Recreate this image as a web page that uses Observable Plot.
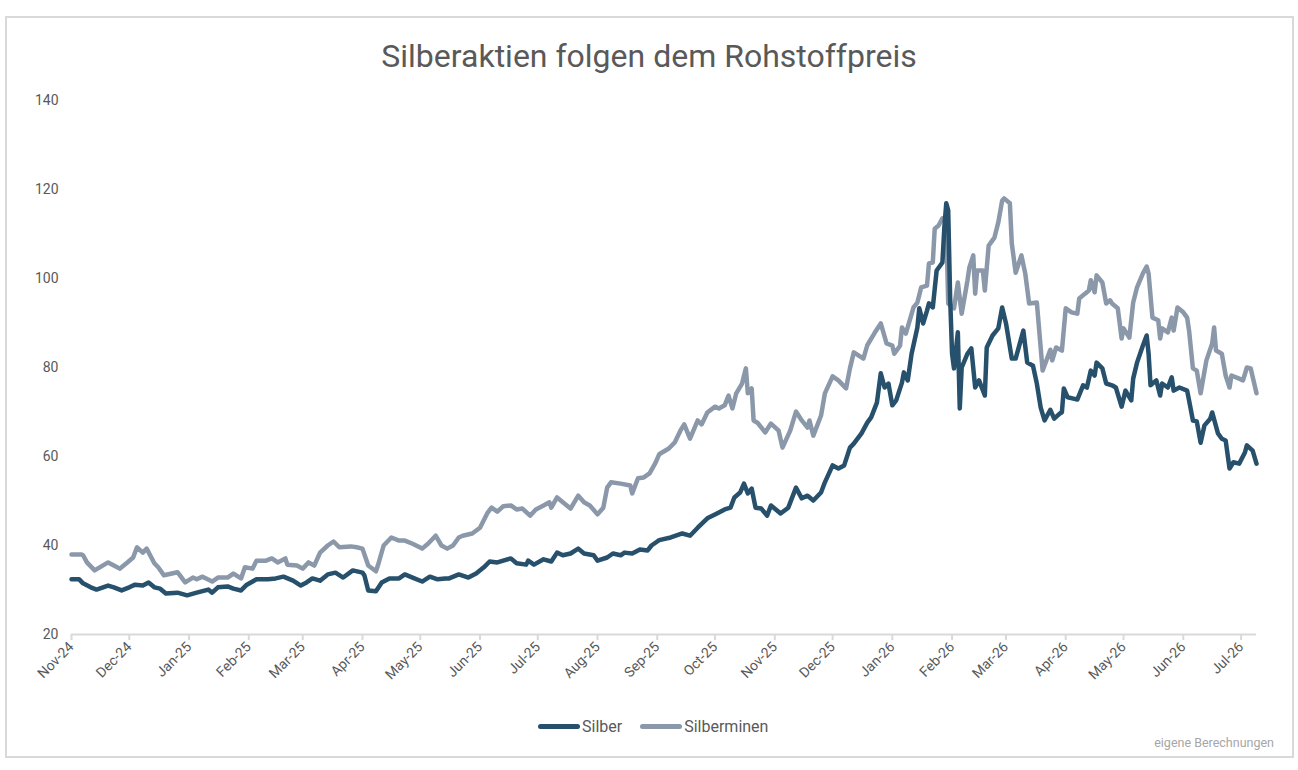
<!DOCTYPE html>
<html>
<head>
<meta charset="utf-8">
<script src="https://cdn.jsdelivr.net/npm/d3@7"></script>
<script src="https://cdn.jsdelivr.net/npm/@observablehq/plot@0.6"></script>
<style>
  body { margin: 0; background: #fff; font-family: "Roboto", sans-serif; }
  #frame { position: absolute; left: 5px; top: 16px; width: 1285px; height: 738px; border: 2px solid #d9d9d9; box-sizing: content-box; }
  #title { position: absolute; left: 0; top: 37px; width: 1298px; text-align: center; font-size: 32px; color: #595959; }
  #chart { position: absolute; left: 0; top: 80px; }
  #legend { position: absolute; left: 538px; top: 717px; display: flex; align-items: center; font-size: 16px; color: #595959; }
  #legend .item { display: flex; align-items: center; margin-right: 18px; }
  #legend .sw { width: 42px; height: 5px; border-radius: 3px; margin-right: 2px; }
  #caption { position: absolute; right: 24px; top: 735px; font-size: 12.5px; color: #a6a6a6; }
</style>
</head>
<body>
<div id="frame"></div>
<div id="title">Silberaktien folgen dem Rohstoffpreis</div>
<div id="chart"></div>
<div id="legend"></div>
<div id="caption">eigene Berechnungen</div>
<script>
// Silver price (Silber)
const silberDates = [
  "2024-11-01","2024-11-05","2024-11-07","2024-11-11","2024-11-14","2024-11-20","2024-11-23","2024-11-27",
  "2024-12-01","2024-12-04","2024-12-08","2024-12-11","2024-12-14","2024-12-17","2024-12-20","2024-12-26","2024-12-31",
  "2025-01-05","2025-01-11","2025-01-13","2025-01-16","2025-01-21","2025-01-24","2025-01-28","2025-01-31",
  "2025-02-05","2025-02-11","2025-02-15","2025-02-19","2025-02-24","2025-02-28",
  "2025-03-03","2025-03-06","2025-03-10","2025-03-14","2025-03-18","2025-03-22","2025-03-27",
  "2025-04-01","2025-04-02","2025-04-04","2025-04-08","2025-04-11","2025-04-15","2025-04-20","2025-04-23","2025-04-27",
  "2025-05-02","2025-05-06","2025-05-10","2025-05-14","2025-05-16","2025-05-21","2025-05-26","2025-05-30",
  "2025-06-03","2025-06-06","2025-06-10","2025-06-17","2025-06-20","2025-06-25","2025-06-26","2025-06-29",
  "2025-07-04","2025-07-08","2025-07-11","2025-07-14","2025-07-18","2025-07-22","2025-07-25","2025-07-30",
  "2025-08-01","2025-08-06","2025-08-09","2025-08-13","2025-08-15","2025-08-19","2025-08-23","2025-08-27","2025-08-29",
  "2025-09-01","2025-09-02","2025-09-08","2025-09-14","2025-09-18","2025-09-22","2025-09-27",
  "2025-10-02","2025-10-06","2025-10-09","2025-10-11","2025-10-14","2025-10-16","2025-10-18","2025-10-20","2025-10-22","2025-10-25","2025-10-28","2025-10-30",
  "2025-11-04","2025-11-08","2025-11-12","2025-11-15","2025-11-18","2025-11-21","2025-11-25","2025-11-27",
  "2025-12-01","2025-12-04","2025-12-07","2025-12-10","2025-12-12","2025-12-16","2025-12-19","2025-12-21","2025-12-24","2025-12-26","2025-12-28","2025-12-30",
  "2026-01-01","2026-01-03","2026-01-06","2026-01-07","2026-01-09","2026-01-11","2026-01-14","2026-01-15","2026-01-17","2026-01-19","2026-01-20","2026-01-22","2026-01-24","2026-01-27","2026-01-28","2026-01-29","2026-01-30","2026-01-31",
  "2026-02-01","2026-02-02","2026-02-04","2026-02-05","2026-02-06","2026-02-09","2026-02-11","2026-02-13","2026-02-15","2026-02-18","2026-02-19","2026-02-22","2026-02-25","2026-02-27",
  "2026-03-01","2026-03-04","2026-03-06","2026-03-10","2026-03-12","2026-03-15","2026-03-17","2026-03-19","2026-03-21","2026-03-24","2026-03-26","2026-03-29","2026-03-30","2026-03-31",
  "2026-04-02","2026-04-05","2026-04-07","2026-04-10","2026-04-12","2026-04-14","2026-04-16","2026-04-17","2026-04-20","2026-04-22","2026-04-25","2026-04-27","2026-04-30",
  "2026-05-02","2026-05-05","2026-05-06","2026-05-08","2026-05-11","2026-05-13","2026-05-14","2026-05-15","2026-05-18","2026-05-20","2026-05-21","2026-05-24","2026-05-26","2026-05-27","2026-05-30",
  "2026-06-03","2026-06-04","2026-06-06","2026-06-08","2026-06-10","2026-06-12","2026-06-15","2026-06-16","2026-06-19","2026-06-21","2026-06-23","2026-06-25","2026-06-27","2026-06-30",
  "2026-07-03","2026-07-04","2026-07-07","2026-07-09"
];
const silberValues = [
  32.4,32.4,31.5,30.6,30.1,31.0,30.6,29.9,
  30.6,31.2,31.0,31.7,30.6,30.3,29.2,29.4,28.8,
  29.4,30.1,29.4,30.6,30.8,30.3,29.9,31.2,
  32.4,32.4,32.6,33.0,32.1,31.0,
  31.7,32.6,32.1,33.5,33.9,32.8,34.4,
  33.9,33.3,29.9,29.7,31.7,32.6,32.6,33.5,32.8,
  31.9,33.0,32.4,32.6,32.6,33.5,32.8,33.7,
  35.1,36.4,36.2,37.1,36.0,35.7,36.6,35.7,
  36.9,36.4,38.4,37.8,38.2,39.3,38.2,37.8,
  36.6,37.3,38.2,37.8,38.4,38.2,39.1,38.9,40.0,
  40.9,41.2,41.8,42.7,42.2,44.0,46.1,
  47.2,48.1,48.5,50.8,51.9,53.9,51.7,52.8,48.5,48.3,46.7,49.0,
  47.2,48.5,53.0,50.6,51.2,50.1,51.9,54.2,
  58.0,57.3,58.0,62.0,62.9,65.2,67.6,68.8,72.1,78.7,75.5,76.4,
  71.5,72.6,76.6,78.9,77.1,83.1,89.0,93.3,89.9,92.8,94.4,93.5,101.8,103.6,111.5,116.9,115.3,95.7,
  83.1,79.8,87.9,70.8,80.0,83.1,84.3,75.5,77.1,73.7,84.5,87.2,88.8,93.5,
  89.9,82.0,82.0,88.3,81.1,80.4,76.4,71.0,68.1,70.5,68.5,69.7,69.9,75.3,
  73.3,73.0,72.8,76.0,75.5,79.3,78.2,81.1,79.8,76.4,76.0,75.5,71.2,
  74.8,72.6,77.5,81.1,84.9,87.2,83.1,76.0,77.1,73.7,76.4,75.5,77.8,74.8,75.5,
  74.8,72.6,68.1,67.9,63.1,67.0,68.5,69.9,65.2,64.0,63.6,57.3,58.7,58.4,
  60.9,62.5,61.3,58.4
];

// Silver miners (Silberminen)
const minenDates = [
  "2024-11-01","2024-11-06","2024-11-07","2024-11-09","2024-11-13","2024-11-20","2024-11-23","2024-11-26","2024-11-30",
  "2024-12-03","2024-12-05","2024-12-08","2024-12-10","2024-12-14","2024-12-16","2024-12-19","2024-12-26","2024-12-30",
  "2025-01-03","2025-01-05","2025-01-08","2025-01-13","2025-01-16","2025-01-21","2025-01-24","2025-01-28","2025-01-30",
  "2025-02-03","2025-02-05","2025-02-10","2025-02-13","2025-02-16","2025-02-20","2025-02-21","2025-02-26",
  "2025-03-01","2025-03-04","2025-03-07","2025-03-10","2025-03-14","2025-03-17","2025-03-20","2025-03-26","2025-03-29",
  "2025-04-01","2025-04-04","2025-04-08","2025-04-09","2025-04-12","2025-04-16","2025-04-20","2025-04-23","2025-04-27",
  "2025-05-02","2025-05-05","2025-05-09","2025-05-12","2025-05-15","2025-05-18","2025-05-21","2025-05-23","2025-05-28",
  "2025-06-01","2025-06-05","2025-06-07","2025-06-10","2025-06-13","2025-06-17","2025-06-20","2025-06-23","2025-06-27","2025-06-30",
  "2025-07-04","2025-07-07","2025-07-08","2025-07-11","2025-07-14","2025-07-18","2025-07-22","2025-07-25","2025-07-28",
  "2025-08-01","2025-08-04","2025-08-06","2025-08-08","2025-08-13","2025-08-18","2025-08-19","2025-08-22","2025-08-25","2025-08-28","2025-08-31",
  "2025-09-02","2025-09-07","2025-09-10","2025-09-13","2025-09-15","2025-09-18","2025-09-22","2025-09-24","2025-09-27",
  "2025-10-01","2025-10-03","2025-10-06","2025-10-08","2025-10-10","2025-10-12","2025-10-15","2025-10-17","2025-10-18","2025-10-20","2025-10-21","2025-10-23","2025-10-27","2025-10-30",
  "2025-11-03","2025-11-05","2025-11-09","2025-11-12","2025-11-15","2025-11-18","2025-11-19","2025-11-21","2025-11-25","2025-11-27",
  "2025-12-01","2025-12-04","2025-12-08","2025-12-10","2025-12-12","2025-12-17","2025-12-19","2025-12-23","2025-12-26","2025-12-29",
  "2026-01-01","2026-01-02","2026-01-05","2026-01-06","2026-01-08","2026-01-12","2026-01-14","2026-01-16","2026-01-19","2026-01-20","2026-01-22","2026-01-23","2026-01-25","2026-01-27","2026-01-29","2026-01-30",
  "2026-02-02","2026-02-04","2026-02-06","2026-02-09","2026-02-10","2026-02-12","2026-02-13","2026-02-14","2026-02-17","2026-02-18","2026-02-20","2026-02-23","2026-02-25","2026-02-27","2026-02-28",
  "2026-03-03","2026-03-04","2026-03-06","2026-03-09","2026-03-11","2026-03-13","2026-03-17","2026-03-20","2026-03-24","2026-03-25","2026-03-27","2026-03-30",
  "2026-04-01","2026-04-04","2026-04-07","2026-04-08","2026-04-11","2026-04-13","2026-04-14","2026-04-16","2026-04-17","2026-04-20","2026-04-22","2026-04-24","2026-04-25","2026-04-28","2026-04-30",
  "2026-05-01","2026-05-04","2026-05-06","2026-05-08","2026-05-11","2026-05-13","2026-05-14","2026-05-16","2026-05-19","2026-05-20","2026-05-21","2026-05-24","2026-05-26","2026-05-27","2026-05-29",
  "2026-06-01","2026-06-03","2026-06-04","2026-06-06","2026-06-08","2026-06-10","2026-06-13","2026-06-16","2026-06-17","2026-06-18","2026-06-21","2026-06-23","2026-06-25","2026-06-26","2026-06-30",
  "2026-07-02","2026-07-04","2026-07-06","2026-07-09"
];
const minenValues = [
  38.0,38.0,37.8,36.2,34.4,36.2,35.5,34.8,36.2,
  37.3,39.6,38.4,39.3,36.0,35.1,33.3,34.0,31.7,
  32.8,32.4,33.0,31.9,32.8,32.8,33.7,32.6,35.1,
  34.8,36.6,36.6,37.1,36.2,37.1,35.7,35.5,
  34.8,36.2,35.5,38.4,40.0,40.9,39.6,39.8,39.6,
  39.3,35.5,34.2,35.5,40.0,41.8,41.1,41.1,40.4,
  39.3,40.4,42.2,40.0,39.3,40.0,41.8,42.2,42.7,
  44.0,47.4,48.5,47.6,48.8,49.0,48.1,48.3,46.7,48.1,
  49.0,49.7,48.5,50.8,49.7,48.3,51.2,49.7,49.0,
  47.0,48.5,53.0,54.2,53.9,53.5,51.7,55.1,55.3,56.2,58.5,
  60.5,61.8,63.1,65.8,67.2,64.0,68.1,67.2,69.9,
  71.2,70.8,71.5,73.7,70.8,74.2,76.4,79.8,74.2,75.3,68.1,67.6,65.4,67.4,
  65.8,62.0,65.8,70.1,68.1,66.5,68.1,64.7,69.2,74.2,
  78.0,77.1,75.3,79.8,83.4,82.0,85.0,87.9,89.9,85.4,
  84.9,83.1,84.9,89.0,87.6,93.5,94.6,98.0,98.4,103.4,103.6,111.2,111.9,113.5,112.4,94.4,
  93.3,99.1,92.1,99.6,102.5,105.2,96.6,101.8,101.8,97.3,107.4,109.2,112.6,117.5,118.0,
  116.9,107.9,101.3,105.2,101.1,94.4,94.6,79.3,84.0,81.6,84.5,83.8,
  93.3,92.4,92.1,95.5,96.6,97.3,99.6,96.9,100.7,99.1,94.4,95.1,94.4,93.3,86.5,
  88.8,86.7,94.6,98.0,101.1,102.7,101.1,91.2,90.6,86.5,88.8,87.9,91.2,88.3,93.5,
  92.4,91.2,88.3,79.8,79.3,74.2,81.6,85.4,89.0,83.8,83.1,78.2,75.5,78.2,77.5,
  77.1,80.0,79.8,74.2
];

const seriesNames = ["Silber", "Silberminen"];
const seriesColors = ["#26506b", "#8a98aa"];

const yTicks = [20, 40, 60, 80, 100, 120, 140];
const monthTicks = [
  "2024-11-01","2024-12-01","2025-01-01","2025-02-01","2025-03-01","2025-04-01","2025-05-01",
  "2025-06-01","2025-07-01","2025-08-01","2025-09-01","2025-10-01","2025-11-01","2025-12-01",
  "2026-01-01","2026-02-01","2026-03-01","2026-04-01","2026-05-01","2026-06-01","2026-07-01"
];

const silber = silberDates.map((d, i) => ({date: new Date(d), value: silberValues[i]}));
const minen = minenDates.map((d, i) => ({date: new Date(d), value: minenValues[i]}));
const fmt = d3.utcFormat("%b-%y");

const chart = Plot.plot({
  width: 1298,
  height: 620,
  marginLeft: 71,
  marginRight: 42,
  marginTop: 20,
  marginBottom: 66,
  style: {fontFamily: '"Roboto", sans-serif', fontSize: "14px", color: "#595959", background: "transparent"},
  x: {type: "utc", domain: [new Date(silberDates[0]), new Date(silberDates[silberDates.length - 1])]},
  y: {domain: [20, 140]},
  marks: [
    Plot.axisY({ticks: yTicks, tickSize: 0, tickPadding: 13, label: null, fill: "#595959", fontSize: 14}),
    Plot.ruleY([20], {stroke: "#d9d9d9", strokeWidth: 2}),
    Plot.axisX({ticks: monthTicks.map(d => new Date(d)), tickFormat: fmt, tickRotate: -45, tickSize: 6, tickPadding: 4,
      stroke: "#d9d9d9", strokeWidth: 2, strokeOpacity: 1, fill: "#595959", label: null, fontSize: 14}),
    Plot.lineY(minen, {x: "date", y: "value", stroke: seriesColors[1], strokeWidth: 4.5, strokeLinejoin: "round", strokeLinecap: "round"}),
    Plot.lineY(silber, {x: "date", y: "value", stroke: seriesColors[0], strokeWidth: 4.5, strokeLinejoin: "round", strokeLinecap: "round"})
  ]
});
document.getElementById("chart").appendChild(chart);

const legend = document.getElementById("legend");
seriesNames.forEach((name, i) => {
  const item = document.createElement("div");
  item.className = "item";
  const sw = document.createElement("span");
  sw.className = "sw";
  sw.style.background = seriesColors[i];
  const label = document.createElement("span");
  label.textContent = name;
  item.appendChild(sw);
  item.appendChild(label);
  legend.appendChild(item);
});
</script>
</body>
</html>
